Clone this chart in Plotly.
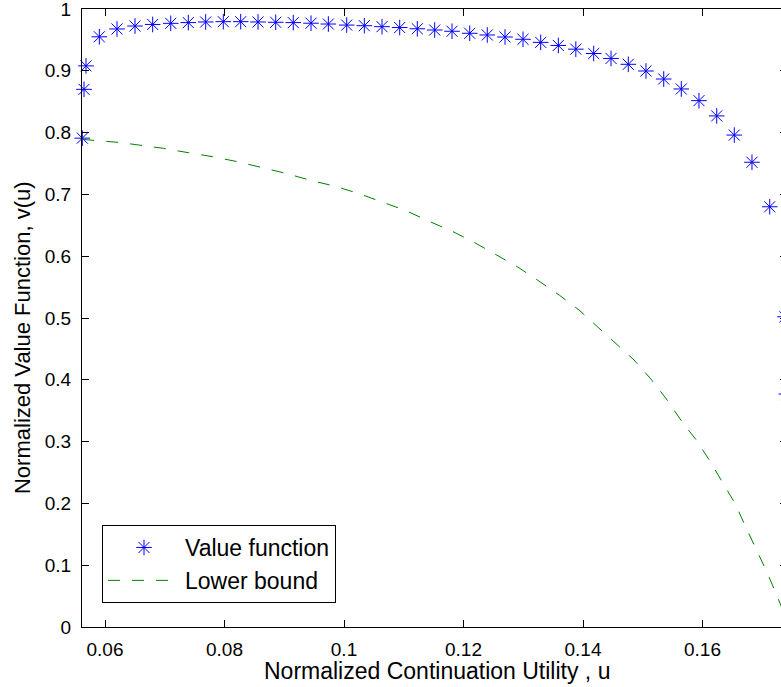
import plotly.graph_objects as go

# Value function (stars)
u_value = [0.0562, 0.05649, 0.05682, 0.05905, 0.06201, 0.06502, 0.06798, 0.07100,
           0.07394, 0.07685, 0.07980, 0.08271, 0.08561, 0.08857, 0.09151, 0.09448,
           0.09738, 0.10045, 0.10340, 0.10636, 0.10932, 0.11227, 0.11518, 0.11808,
           0.12104, 0.12398, 0.12695, 0.12996, 0.13292, 0.13587, 0.13880, 0.14179,
           0.14469, 0.14758, 0.15054, 0.15351, 0.15645, 0.15941, 0.16238, 0.16532,
           0.16828, 0.17125, 0.17380, 0.17405]
v_value = [0.791, 0.870, 0.908, 0.955, 0.9677, 0.9725, 0.975, 0.9768,
           0.978, 0.979, 0.9795, 0.9795, 0.979, 0.9785, 0.978, 0.977,
           0.9757, 0.974, 0.973, 0.9714, 0.970, 0.968, 0.966, 0.964,
           0.9607, 0.958, 0.9547, 0.951, 0.946, 0.941, 0.935, 0.928,
           0.920, 0.9105, 0.8997, 0.8867, 0.8706, 0.8517, 0.827, 0.796,
           0.752, 0.680, 0.502, 0.377]

# Lower bound (dashed line)
u_lower = [0.0562, 0.06251, 0.06557, 0.06976, 0.07394, 0.07803, 0.08214, 0.08623,
           0.09029, 0.09431, 0.09833, 0.10239, 0.10641, 0.11038, 0.11439, 0.11803,
           0.12176, 0.12544, 0.12900, 0.13259, 0.13603, 0.13933, 0.14246, 0.14552,
           0.14854, 0.15138, 0.15411, 0.15657, 0.15896, 0.16114, 0.16338, 0.16544,
           0.16723, 0.16895, 0.17063, 0.17230, 0.17390]
v_lower = [0.789, 0.784, 0.780, 0.7746, 0.7675, 0.761, 0.753, 0.744,
           0.734, 0.723, 0.7136, 0.7017, 0.688, 0.6737, 0.6558, 0.6408,
           0.6225, 0.603, 0.583, 0.560, 0.537, 0.513, 0.486, 0.459,
           0.432, 0.401, 0.367, 0.332, 0.3026, 0.270, 0.2325, 0.200,
           0.162, 0.127, 0.092, 0.0545, 0.016]

x_ticks = [0.06, 0.08, 0.10, 0.12, 0.14, 0.16]
x_tick_labels = ["0.06", "0.08", "0.1", "0.12", "0.14", "0.16"]
y_ticks = [0, 0.1, 0.2, 0.3, 0.4, 0.5, 0.6, 0.7, 0.8, 0.9, 1.0]
y_tick_labels = ["0", "0.1", "0.2", "0.3", "0.4", "0.5", "0.6", "0.7", "0.8", "0.9", "1"]

FONT = "Arial, Liberation Sans, Helvetica, sans-serif"

# axes box extends slightly past the right edge of the 781 px window (as in the reference)
FIG_W = 787
PLOT_L = 82
X0 = 0.05615
PX_PER_UNIT = 5975.0
X1 = X0 + (FIG_W - PLOT_L) / PX_PER_UNIT

fig = go.Figure()
fig.add_trace(go.Scatter(
    x=u_value, y=v_value, mode="markers", name="Value function",
    cliponaxis=False,
    marker=dict(symbol="asterisk-open", size=13, color="rgb(0,0,255)",
                line=dict(color="rgb(0,0,255)", width=1)),
))
fig.add_trace(go.Scatter(
    x=u_lower, y=v_lower, mode="lines", name="Lower bound",
    line=dict(color="rgb(0,128,0)", width=1, dash="12px,12px"),
))

fig.update_layout(
    width=FIG_W, height=687,
    margin=dict(l=PLOT_L, r=0, t=9, b=60),
    paper_bgcolor="white", plot_bgcolor="white",
    font=dict(family=FONT, color="black"),
    showlegend=True,
    legend=dict(x=20 / (FIG_W - PLOT_L), y=0.0388, xanchor="left", yanchor="bottom",
                bgcolor="white", bordercolor="black", borderwidth=1,
                font=dict(family=FONT, size=23, color="black"),
                itemwidth=72, tracegroupgap=0),
    xaxis=dict(range=[X0, X1], tickvals=x_ticks, ticktext=x_tick_labels,
               ticks="inside", ticklen=7, tickcolor="black", tickwidth=1,
               showline=True, linecolor="black", linewidth=1, mirror="ticks",
               showgrid=False, zeroline=False,
               tickfont=dict(family=FONT, size=19, color="black"),
               ticklabelstandoff=5, ticklabeloverflow="allow"),
    yaxis=dict(range=[0, 1], tickvals=y_ticks, ticktext=y_tick_labels,
               ticks="inside", ticklen=7, tickcolor="black", tickwidth=1,
               showline=True, linecolor="black", linewidth=1, mirror="ticks",
               showgrid=False, zeroline=False,
               tickfont=dict(family=FONT, size=19, color="black"),
               ticklabelstandoff=6, ticklabeloverflow="allow"),
    annotations=[
        dict(text="Normalized Continuation Utility , u", xref="paper", yref="paper",
             x=(436.5 - PLOT_L) / (FIG_W - PLOT_L), y=-0.0715,
             xanchor="center", yanchor="middle", showarrow=False,
             font=dict(family=FONT, size=23, color="black")),
        dict(text="Normalized Value Function, v(u)", xref="paper", yref="paper",
             x=(22 - PLOT_L) / (FIG_W - PLOT_L), y=0.4676,
             xanchor="center", yanchor="middle", showarrow=False,
             textangle=-90, font=dict(family=FONT, size=22, color="black")),
    ],
)

fig.write_html("out.html", config={"displayModeBar": False},
               post_script="document.body.style.margin='0';document.body.style.overflow='hidden';")
